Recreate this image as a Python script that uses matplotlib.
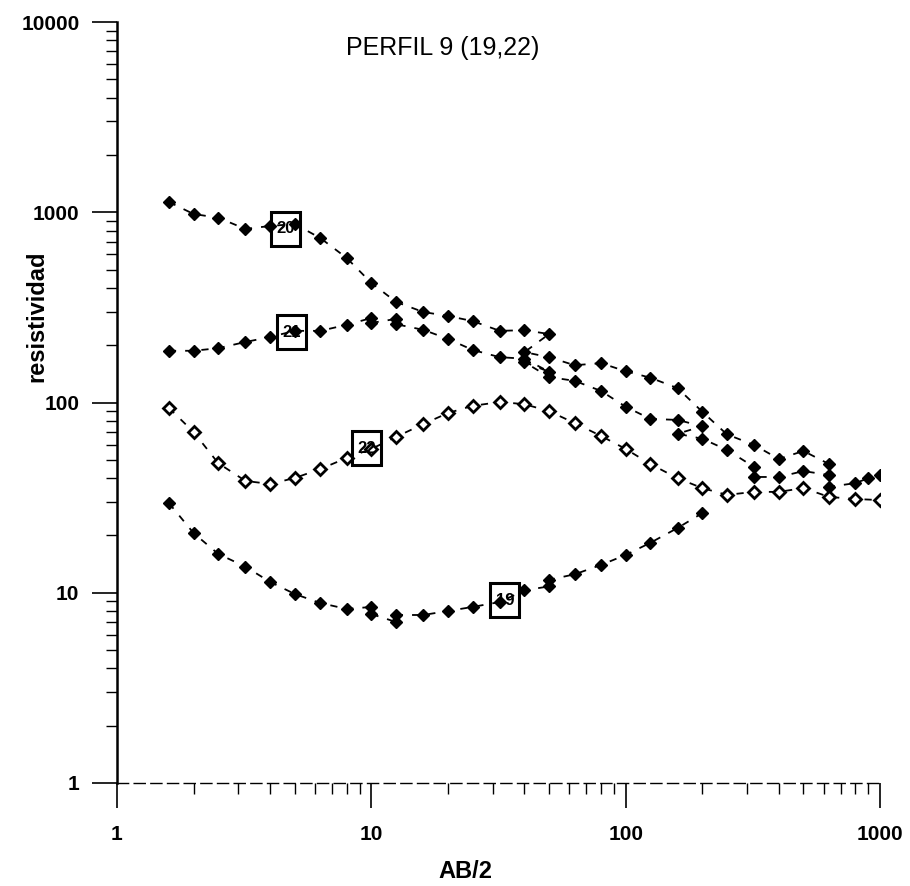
import matplotlib
matplotlib.use("Agg")
import matplotlib.pyplot as plt
import matplotlib.transforms as mtransforms
from matplotlib.patches import Rectangle
from matplotlib.ticker import LogLocator, NullFormatter, FixedLocator, FixedFormatter

plt.rcParams['font.family'] = ['Liberation Sans', 'DejaVu Sans']

# ---- data (AB/2, apparent resistivity) ----
x20 = [1.6, 2, 2.5, 3.2, 4, 5, 6.3, 8, 10, 12.5, 16, 20, 25, 32, 40, 50, 40, 50,
       63, 80, 100, 125, 160, 200, 250, 320, 400, 500, 630]
y20 = [1132, 979, 936, 817, 847, 867, 732, 575, 425, 338, 299, 285, 268, 238, 240, 229, 184, 173,
       157, 161, 146, 135, 119, 89.5, 68, 59.8, 50.5, 55.6, 47.5]

x21 = [1.6, 2, 2.5, 3.2, 4, 5, 6.3, 8, 10, 10, 12.5, 12.5, 16, 20, 25, 32, 40, 50, 40, 50,
       63, 80, 100, 125, 160, 200, 160, 200, 250, 320, 320, 400, 500, 630, 630, 800, 900, 1000]
y21 = [187, 187, 193, 208, 221, 238, 238, 256, 278, 262, 275, 258, 241, 216, 189, 173, 170, 145, 163, 136,
       130, 115, 95, 82, 81, 75, 68.5, 64.5, 56.4, 45.8, 40.6, 40.6, 43.6, 41.6, 36, 37.7, 40, 41.6]

x22 = [1.6, 2, 2.5, 3.2, 4, 5, 6.3, 8, 10, 12.5, 16, 20, 25, 32, 40, 50, 63, 80, 100,
       125, 160, 200, 250, 320, 400, 500, 630, 800, 1000]
y22 = [93.6, 70, 48, 38.7, 37.3, 40.1, 44.7, 51.1, 57, 65.9, 77, 88, 96, 100.6, 98, 90, 78, 66.7, 57,
       47.5, 40, 35.5, 32.7, 33.9, 33.9, 35.5, 31.9, 31.1, 30.7]

x19 = [1.6, 2, 2.5, 3.2, 4, 5, 6.3, 8, 10, 10, 12.5, 12.5, 16, 20, 25, 32, 40, 50, 50,
       63, 80, 100, 125, 160, 200]
y19 = [29.6, 20.6, 16.0, 13.7, 11.4, 9.85, 8.83, 8.22, 8.42, 7.73, 7.02, 7.64, 7.64, 8.02, 8.42, 8.94, 10.3, 10.8, 11.7,
       12.5, 14.0, 15.8, 18.3, 21.9, 26.2]

series_names = ['20', '21', '22', '19']
x_ticks = [1, 10, 100, 1000]
x_tick_labels = ['1', '10', '100', '1000']
y_ticks = [1, 10, 100, 1000, 10000]
y_tick_labels = ['1', '10', '100', '1000', '10000']

# ---- figure ----
fig = plt.figure(figsize=(9.10, 8.86), dpi=100)
ax = fig.add_axes([117/910, 1 - 783/886, (880 - 117)/910, (783 - 22)/886])
ax.set_xscale('log')
ax.set_yscale('log')
ax.set_xlim(1, 1000)
ax.set_ylim(1, 10000)

line_kw = dict(color='black', linestyle=(0, (4, 5)), linewidth=1.3, marker='D',
               markersize=6, markeredgecolor='black')
ax.plot(x20, y20, markerfacecolor='black', **line_kw)
ax.plot(x21, y21, markerfacecolor='black', **line_kw)
ax.plot(x22, y22, markerfacecolor='white', markeredgewidth=2.0, **line_kw)
ax.plot(x19, y19, markerfacecolor='black', **line_kw)

# curve labels in boxes (box size fixed in inches, centred on a data position)
label_spots = [(4.6, 820), (4.87, 234), (9.6, 57.5), (33.5, 9.15)]
bw, bh = 0.29, 0.34
for name, (lx, ly) in zip(series_names, label_spots):
    tr = fig.dpi_scale_trans + mtransforms.ScaledTranslation(lx, ly, ax.transData)
    ax.add_patch(Rectangle((-bw / 2, -bh / 2), bw, bh, transform=tr, facecolor='none',
                           edgecolor='black', linewidth=2.2, zorder=5))
    ax.text(lx, ly, name, ha='center', va='center', fontsize=12, fontweight='bold', zorder=6)

ax.xaxis.set_major_locator(FixedLocator(x_ticks))
ax.xaxis.set_major_formatter(FixedFormatter(x_tick_labels))
ax.yaxis.set_major_locator(FixedLocator(y_ticks))
ax.yaxis.set_major_formatter(FixedFormatter(y_tick_labels))
ax.xaxis.set_minor_locator(LogLocator(base=10, subs=range(2, 10)))
ax.yaxis.set_minor_locator(LogLocator(base=10, subs=range(2, 10)))
ax.xaxis.set_minor_formatter(NullFormatter())
ax.yaxis.set_minor_formatter(NullFormatter())

ax.tick_params(axis='both', which='major', direction='out', length=18, width=1.2,
               labelsize=15)
ax.tick_params(axis='both', which='minor', direction='out', length=8, width=1.0)
ax.tick_params(axis='x', which='major', pad=12)
ax.tick_params(axis='y', which='major', pad=9)
for lab in ax.get_xticklabels() + ax.get_yticklabels():
    lab.set_fontweight('bold')

ax.spines['top'].set_visible(False)
ax.spines['right'].set_visible(False)
ax.spines['left'].set_linewidth(1.8)
ax.spines['bottom'].set_linewidth(1.0)
ax.spines['bottom'].set_linestyle((0, (8, 4)))
ax.patch.set_visible(False)

fig.text(443/910, 1 - 48/886, 'PERFIL 9 (19,22)', ha='center', va='center', fontsize=18)
fig.text(37/910, 1 - 316/886, 'resistividad', ha='center', va='center', rotation=90,
         fontsize=17, fontweight='bold')
fig.text(465/910, 1 - 872/886, 'AB/2', ha='center', va='center', fontsize=17, fontweight='bold')

fig.savefig('out.png', dpi=100, facecolor='white')
